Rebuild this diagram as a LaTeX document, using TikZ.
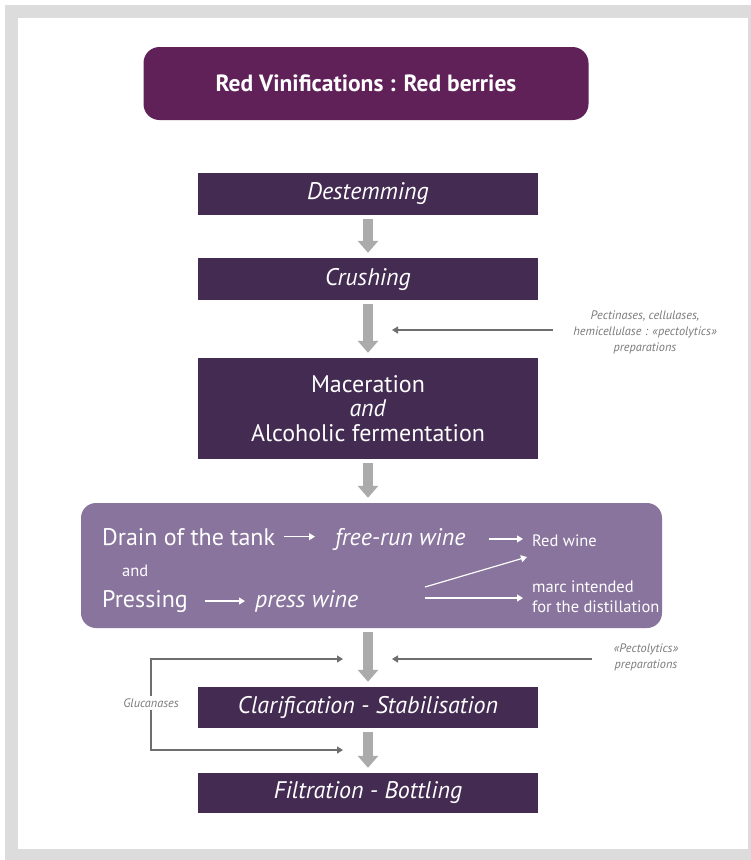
\documentclass[tikz,border=0pt]{standalone}
\usepackage{fontspec}
\setmainfont{PT Sans}
\usetikzlibrary{arrows.meta}
\definecolor{framegray}{HTML}{DCDCDC}
\definecolor{titlepurple}{HTML}{5F2157}
\definecolor{stagedark}{HTML}{432B52}
\definecolor{tanklilac}{HTML}{88749D}
\definecolor{flowgray}{HTML}{ABABAB}
\definecolor{notegray}{HTML}{7A7A7A}
\definecolor{feedgray}{HTML}{6E6E6E}
\newcommand\stagefont{\fontsize{24}{24.5}\selectfont}
\newcommand\tankfont{\fontsize{24}{28}\selectfont}
\newcommand\outfont{\fontsize{16.5}{20}\selectfont}
\newcommand\notefont{\fontsize{12.3}{16}\selectfont\itshape}
\begin{document}
\begin{tikzpicture}[x=1pt,y=-1pt,
  stagebox/.style={fill=stagedark, text=white, minimum width=340pt, inner sep=0pt, align=center, font=\stagefont},
  flow/.style={draw=flowgray, line width=10pt, -{Triangle[width=20pt,length=12pt]}, shorten <=4pt, shorten >=5pt},
  feed/.style={draw=feedgray, line width=1.3pt, -{Triangle[width=7pt,length=6pt]}},
  outarrow/.style={draw=white, line width=1.2pt, -{Triangle[width=7pt,length=6pt]}},
  note/.style={text=notegray, font=\notefont, align=center, inner sep=0pt},
  tanktext/.style={text=white, inner sep=0pt, anchor=base west}]
\useasboundingbox (0,0) rectangle (751,860);
\fill[framegray] (5,5) rectangle (751,860);
\fill[white] (18,18) rectangle (748,849);

\node[fill=titlepurple, text=white, rounded corners=16pt, minimum width=445pt, minimum height=73pt,
  font=\fontsize{23.5}{26}\selectfont\bfseries] (title) at (366,83.5) {Red Vinifications : Red berries};

\node[stagebox, minimum height=42pt] (destem) at (368,194) {\itshape Destemming};
\node[stagebox, minimum height=42pt] (crush) at (368,279) {\itshape Crushing};
\node[stagebox, minimum height=101pt] (macer) at (368,408.5) {Maceration\\\textit{and}\\Alcoholic fermentation};
\node[fill=tanklilac, rounded corners=15pt, minimum width=581pt, minimum height=125pt] (tank) at (371.5,565.5) {};
\node[stagebox, minimum height=41pt] (clarif) at (368,707.5) {\itshape Clarification - Stabilisation};
\node[stagebox, minimum height=40pt] (filtr) at (368,793) {\itshape Filtration - Bottling};

\draw[flow] (destem.south) -- (crush.north);
\draw[flow] (crush.south) -- (macer.north);
\draw[flow] (macer.south) -- (macer.south |- tank.north);
\draw[flow] (clarif.north |- tank.south) -- (clarif.north);
\draw[flow] (clarif.south) -- (filtr.north);

\node[tanktext, font=\tankfont] (drainl) at (102,545) {Drain of the tank};
\node[tanktext, font=\tankfont\itshape] (freerun) at (335,545) {free-run wine};
\node[tanktext, font=\outfont] (redwine) at (532,546) {Red wine};
\node[tanktext, font=\outfont] (andl) at (122,576) {and};
\node[tanktext, font=\tankfont] (pressl) at (102,607) {Pressing};
\node[tanktext, font=\tankfont\itshape] (presswine) at (255,607) {press wine};
\node[text=white, inner sep=0pt, anchor=west, align=left, font=\outfont] (marc) at (532,597) {marc intended\\for the distillation};
\coordinate (splitup) at (425,587);
\coordinate (splitflat) at (425,598);
\coordinate (toredwine) at (527,557);

\draw[outarrow] (drainl.east) -- (drainl.east -| freerun.west) [shorten <=9pt, shorten >=20pt];
\draw[outarrow] (freerun.east) -- (freerun.east -| redwine.west) [shorten <=23pt, shorten >=9pt];
\draw[outarrow] (pressl.east) -- (pressl.east -| presswine.west) [shorten <=17pt, shorten >=10pt];
\draw[outarrow] (splitup) -- (toredwine);
\draw[outarrow] (splitflat) -- (splitflat -| marc.west) [shorten >=9pt];

\node[note] (pectnote) at (645,332) {Pectinases, cellulases,\\hemicellulase : «pectolytics»\\preparations};
\coordinate (pectin) at (392,330);
\draw[feed] (pectin -| pectnote.west) -- (pectin) [shorten <=20pt];

\node[note] (pectonote) at (646,657.5) {«Pectolytics»\\preparations};
\coordinate (pecto) at (392,659);
\draw[feed] (pecto -| pectonote.west) -- (pecto) [shorten <=22pt];

\node[note, fill=white, inner sep=2pt] (gluc) at (151,703) {Glucanases};
\coordinate (glutop) at (343,659);
\coordinate (glubot) at (343,750);
\draw[feed] (gluc.north) |- (glutop);
\draw[feed] (gluc.south) |- (glubot);

\end{tikzpicture}
\end{document}
